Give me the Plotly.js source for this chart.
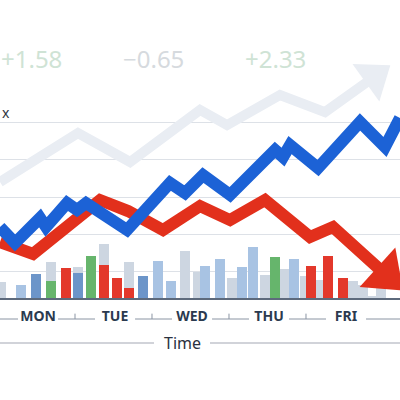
<!DOCTYPE html>
<html>
<head>
<meta charset="utf-8">
<script src="https://cdn.plot.ly/plotly-3.0.1.min.js"></script>
<style>
  html, body { margin: 0; padding: 0; background: #ffffff; }
  #chart { width: 400px; height: 400px; }
</style>
</head>
<body>
<div id="chart"></div>
<script>
// Trading days on the time axis (x = days since Monday open)
const dayNames = ['MON', 'TUE', 'WED', 'THU', 'FRI'];
const dayVals = [0, 1, 2, 3, 4];

// Daily change figures shown above the chart
const changeLabels = ['+1.58', '\u22120.65', '+2.33'];
const changeX = [-0.08, 1.5, 3.09];

// Index line (blue)
const indexX = [-0.494, -0.299, 0.026, 0.104, 0.377, 0.506, 0.623, 1.156, 1.714, 1.909,
                2.143, 2.494, 3.078, 3.182, 3.273, 3.636, 4.182, 4.506, 4.701];
const indexY = [102.40, 101.55, 102.88, 102.40, 103.68, 103.31, 103.68, 102.24, 104.75, 104.21,
                105.17, 104.11, 106.51, 106.13, 106.77, 105.55, 108.00, 106.67, 108.21];

// Falling stock (red, ends in an arrow)
const fallX = [-0.494, -0.065, 0.805, 1.169, 1.623, 2.104, 2.494, 2.948, 3.532, 3.831, 4.519];
const fallY = [101.60, 100.96, 103.84, 103.25, 102.24, 103.52, 102.77, 103.84, 101.87, 102.40, 99.84];

// Long-term trend (faint gray arrow)
const trendX = [-0.494, 0.519, 1.195, 2.104, 2.455, 3.143, 3.727, 4.364];
const trendY = [104.80, 107.41, 105.87, 108.64, 107.84, 109.44, 108.53, 110.40];

// Volume bars, grouped by colour
const volGrayX = [-0.481, 0.169, 0.519, 0.857, 1.182, 1.909, 2.078, 2.519, 2.948, 3.195,
                  3.468, 3.662, 4.091, 4.221, 4.338, 4.455];
const volGrayY = [3.2, 7.2, 6.2, 10.9, 7.2, 9.5, 5.2, 4.0, 4.6, 5.8, 4.4, 3.6, 3.4, 2.6, 0.4, 2.2];

const volLightX = [-0.221, 1.558, 1.727, 2.169, 2.364, 2.649, 2.792, 3.325];
const volLightY = [2.6, 7.4, 3.4, 6.4, 7.9, 6.2, 10.3, 7.9];

const volSteelX = [-0.026, 0.519, 1.364];
const volSteelY = [4.8, 5.0, 4.4];

const volGreenX = [0.169, 0.688, 3.078];
const volGreenY = [3.4, 8.5, 8.3];

const volRedX = [0.364, 0.857, 1.026, 1.182, 3.545, 3.766, 3.961];
const volRedY = [6.0, 6.6, 4.0, 2.0, 6.4, 8.5, 4.0];

const barW = 0.13;
function volBars(xs, ys, color) {
  return {
    type: 'bar', x: xs, y: ys, width: barW, yaxis: 'y',
    marker: { color: color, line: { width: 0 } },
    hoverinfo: 'skip', showlegend: false
  };
}

// Line with an arrowhead marker on its last point only
function arrowLine(xs, ys, color, width, headSize) {
  return {
    type: 'scatter', mode: 'lines+markers', x: xs, y: ys, yaxis: 'y2',
    line: { color: color, width: width },
    marker: { symbol: 'triangle-up', angleref: 'previous', color: color, opacity: 1,
              line: { width: 0 },
              size: xs.map((v, i) => i === xs.length - 1 ? headSize : 0) },
    opacity: 1,
    hoverinfo: 'skip', showlegend: false
  };
}

const traces = [
  volBars(volGrayX, volGrayY, '#cdd6e1'),
  volBars(volLightX, volLightY, '#a8c3e3'),
  volBars(volSteelX, volSteelY, '#6c95c9'),
  volBars(volGreenX, volGreenY, '#66b56c'),
  volBars(volRedX, volRedY, '#e3382b'),
  arrowLine(trendX, trendY, '#e9edf3', 10, 40),
  arrowLine(fallX, fallY, '#e2301c', 12, 46),
  {
    type: 'scatter', mode: 'lines', x: indexX, y: indexY, yaxis: 'y2',
    line: { color: '#1c62d6', width: 12 },
    hoverinfo: 'skip', showlegend: false
  }
];

// Axis decoration: short rules between day labels with a centre tick
const shapes = [];
const ruleY = -0.0705;
for (let d = -1; d <= 4; d++) {
  const x0 = Math.max(d + 0.26, -0.494);
  const x1 = Math.min(d + 0.74, 4.701);
  shapes.push({ type: 'line', xref: 'x', yref: 'paper', x0: x0, x1: x1, y0: ruleY, y1: ruleY,
                line: { color: '#8a94a3', width: 1 } });
  if (d >= 0 && d <= 3) {
    shapes.push({ type: 'line', xref: 'x', yref: 'paper', x0: d + 0.48, x1: d + 0.48,
                  y0: ruleY, y1: ruleY + 0.018, line: { color: '#8a94a3', width: 1 } });
  }
}
// Rules either side of the axis title
shapes.push({ type: 'line', xref: 'paper', yref: 'paper', x0: 0, x1: 0.385, y0: -0.151, y1: -0.151,
              line: { color: '#a3a8b3', width: 1.2 } });
shapes.push({ type: 'line', xref: 'paper', yref: 'paper', x0: 0.525, x1: 1, y0: -0.151, y1: -0.151,
              line: { color: '#a3a8b3', width: 1.2 } });

const annotations = changeLabels.map((t, i) => ({
  text: t, xref: 'x', yref: 'paper', x: changeX[i], y: 0.805, showarrow: false,
  font: { family: 'Noto Sans', size: 24, color: t.startsWith('+') ? '#cfe3d5' : '#d6dade' },
  xanchor: 'center', yanchor: 'middle'
}));
annotations.push({
  text: 'x', xref: 'paper', yref: 'paper', x: 0.0, y: 0.621, showarrow: false,
  xanchor: 'left', yanchor: 'middle', font: { family: 'Noto Sans', size: 14, color: '#2f3540' }
});
annotations.push({
  text: 'Time', xref: 'paper', yref: 'paper', x: 0.455, y: -0.151, showarrow: false,
  xanchor: 'center', yanchor: 'middle', font: { family: 'Noto Sans', size: 16, color: '#2a3140' }
});

const layout = {
  width: 400, height: 400,
  margin: { l: 0, r: 0, t: 0, b: 102, pad: 0 },
  paper_bgcolor: '#ffffff', plot_bgcolor: '#ffffff',
  barmode: 'overlay',
  bargap: 0,
  xaxis: {
    range: [-0.494, 4.701], tickvals: dayVals, ticktext: dayNames, ticks: '',
    showgrid: false, zeroline: false, showline: true, linecolor: '#5d6a7c', linewidth: 1.5,
    ticklabelstandoff: 5,
    tickfont: { family: 'Noto Sans', size: 14, color: '#2b3a4f', weight: 'bold' },
    fixedrange: true
  },
  yaxis: {
    range: [0, 60], showgrid: false, zeroline: false, showticklabels: false, ticks: '',
    fixedrange: true
  },
  yaxis2: {
    overlaying: 'y', range: [98.613, 114.507], tickvals: [100, 102, 104, 106, 108],
    showgrid: true, gridcolor: '#dde1e7', gridwidth: 1, zeroline: false,
    showticklabels: false, ticks: '', fixedrange: true
  },
  shapes: shapes,
  annotations: annotations
};

Plotly.newPlot('chart', traces, layout, { displayModeBar: false, staticPlot: true });
</script>
</body>
</html>
